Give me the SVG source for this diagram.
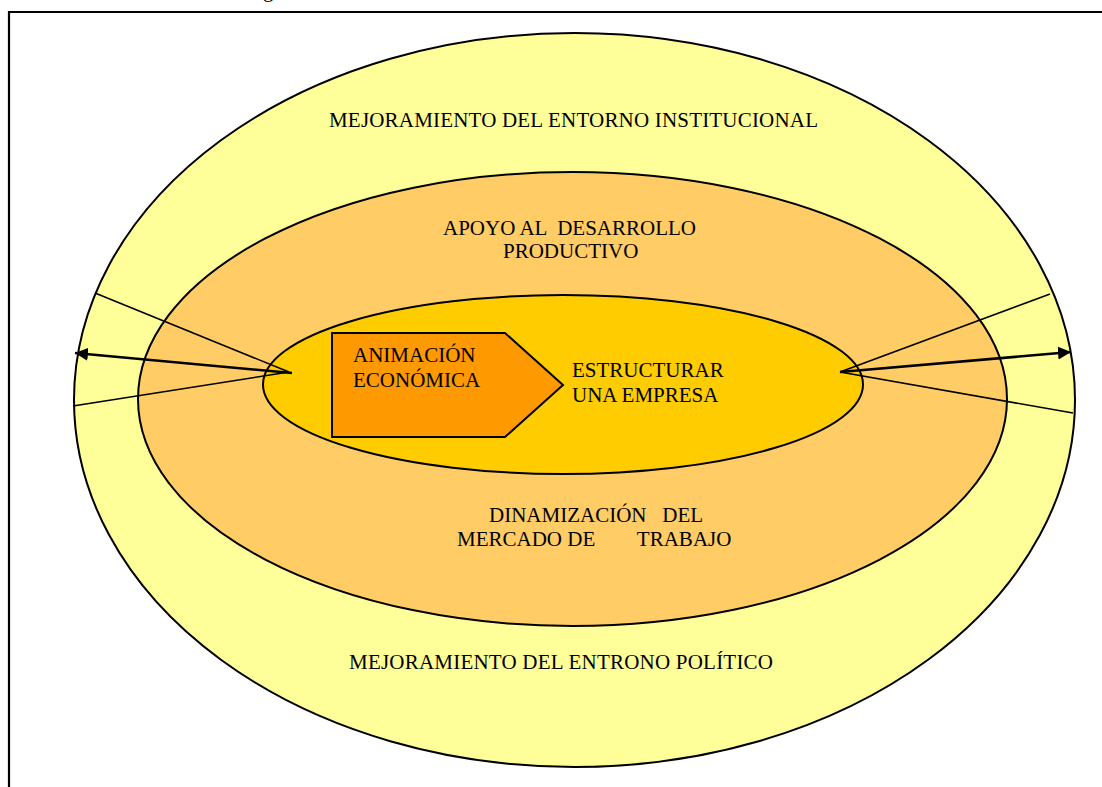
<svg xmlns="http://www.w3.org/2000/svg" width="1102" height="787" viewBox="0 0 1102 787">
<style>
text{font-family:"Liberation Serif","Times New Roman",serif;font-size:21px;fill:#000}
.e{stroke:#000;stroke-width:2}
.ln{stroke:#000;stroke-width:1.6;fill:none}
.ar{stroke:#000;stroke-width:2.6;fill:none;marker-end:url(#ah)}
</style>
<defs>
<marker id="ah" viewBox="0 0 10 10" refX="10" refY="5" markerWidth="5" markerHeight="5" markerUnits="strokeWidth" orient="auto">
<path d="M0,0 L10,5 L0,10 z" fill="#000"/>
</marker>
</defs>
<rect width="1102" height="787" fill="#fff"/>
<text x="263" y="-3">g</text>
<path d="M9,787 V12 H1102" fill="none" stroke="#000" stroke-width="2.2"/>
<g id="outer">
<ellipse class="e" cx="574.5" cy="400" rx="500.5" ry="367" fill="#ffff99"/>
<text x="329" y="127" textLength="489">MEJORAMIENTO DEL ENTORNO INSTITUCIONAL</text>
<text x="349" y="669" textLength="424">MEJORAMIENTO DEL ENTRONO POLÍTICO</text>
</g>
<g id="middle">
<ellipse class="e" cx="572.5" cy="399" rx="434.5" ry="227" fill="#ffcc66"/>
<text x="443" y="235" xml:space="preserve">APOYO AL  DESARROLLO</text>
<text x="503" y="258">PRODUCTIVO</text>
<text x="489" y="522" xml:space="preserve">DINAMIZACIÓN   DEL</text>
<text x="457" y="546" xml:space="preserve">MERCADO DE        TRABAJO</text>
</g>
<g id="inner">
<ellipse class="e" cx="563" cy="384.5" rx="300" ry="89.5" fill="#ffcc00"/>
<text x="572" y="377">ESTRUCTURAR</text>
<text x="572" y="402">UNA EMPRESA</text>
</g>
<g id="animacion">
<polygon class="e" points="332,333 505,333 563,385 505,437 332,437" fill="#ff9900"/>
<text x="353" y="362">ANIMACIÓN</text>
<text x="353" y="387">ECONÓMICA</text>
</g>
<g id="connectors">
<line class="ln" x1="95" y1="293" x2="289" y2="372"/>
<line class="ln" x1="73" y1="406" x2="289" y2="372"/>
<line class="ar" x1="292" y1="373" x2="75" y2="353"/>
<line class="ln" x1="840" y1="372" x2="1050" y2="294"/>
<line class="ln" x1="840" y1="372" x2="1073" y2="413"/>
<line class="ar" x1="840" y1="372" x2="1071" y2="352"/>
</g>
</svg>
